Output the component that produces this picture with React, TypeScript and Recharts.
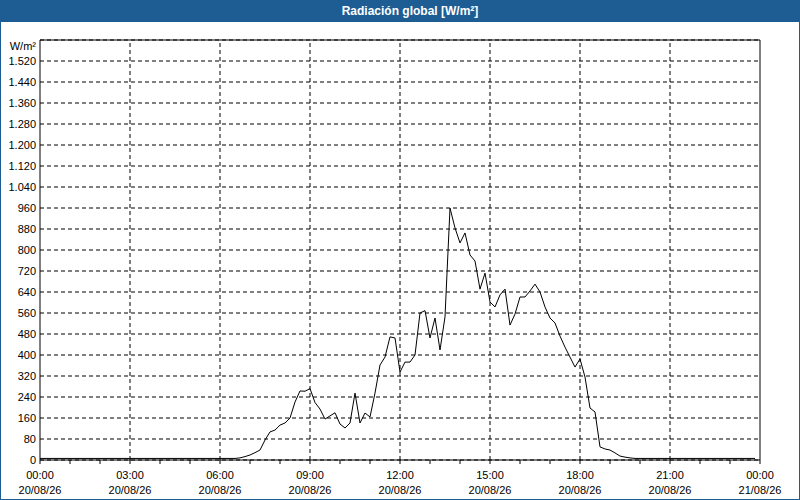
import React from 'react';
import { LineChart, Line, XAxis, YAxis, CartesianGrid, ReferenceLine } from 'recharts';

// global radiation every 10 minutes, 00:00 .. 23:50 (W/m²)
const radiation = [
  6, 6, 6, 6, 6, 6, 6, 6, 6, 6, 6, 6, 6, 6, 6, 6, 6, 6, 6, 6, 6, 6, 6, 6,
  6, 6, 6, 6, 6, 6, 6, 6, 6, 6, 6, 6, 6, 6, 6, 6,
  8, 13, 19, 28, 38, 76, 107, 114, 133, 141, 160, 221, 263, 262, 272, 219,
  194, 156, 168, 180, 137, 122, 141, 255, 141, 179, 164, 255, 362, 392, 469, 465,
  335, 373, 373, 400, 560, 569, 465, 541, 419, 545, 960, 884, 827, 865, 781, 758,
  651, 712, 602, 583, 629, 651, 514, 556, 621, 621, 644, 670, 640, 583, 541, 522,
  472, 430, 392, 354, 385, 316, 198, 183, 50, 42, 38, 27, 15, 11, 8,
  6, 6, 6, 6, 6, 6, 6, 6, 6, 6, 6, 6, 6, 6, 6, 6, 6, 6, 6, 6, 6, 6, 6, 6, 6,
];

const hourTicks = [0, 1, 2, 3, 4, 5, 6, 7, 8, 9, 10, 11, 12, 13, 14, 15, 16, 17, 18, 19, 20, 21, 22, 23, 24];
const timeLabels = ['00:00', '03:00', '06:00', '09:00', '12:00', '15:00', '18:00', '21:00', '00:00'];
const dateLabels = ['20/08/26', '20/08/26', '20/08/26', '20/08/26', '20/08/26', '20/08/26', '20/08/26', '20/08/26', '21/08/26'];
const gridHours = [3, 6, 9, 12, 15, 18, 21];
const valueTicks = [0, 80, 160, 240, 320, 400, 480, 560, 640, 720, 800, 880, 960, 1040, 1120, 1200, 1280, 1360, 1440, 1520, 1600];

const data = radiation.map((v, i) => ({ t: i / 6, v }));

const BLUE = '#1d5d94';
const FONT = '"Liberation Sans", Arial, sans-serif';

const fmt = (v: number) => {
  if (v === 1600) return 'W/m²';
  if (v >= 1000) return `${Math.floor(v / 1000)}.${String(v % 1000).padStart(3, '0')}`;
  return String(v);
};

const TimeTick = (props: any) => {
  const { x, y, payload } = props;
  const h = payload.value;
  if (h % 3 !== 0) return <g />;
  const k = h / 3;
  return (
    <g>
      <text x={x} y={y + 15} textAnchor="middle" fontSize={11} fontFamily={FONT} fill="#000">{timeLabels[k]}</text>
      <text x={x} y={y + 30} textAnchor="middle" fontSize={11} fontFamily={FONT} fill="#000">{dateLabels[k]}</text>
    </g>
  );
};

const ValueTick = (props: any) => {
  const { x, y, payload } = props;
  const top = payload.value === 1600;
  return (
    <text x={x} y={y + (top ? 6 : 0)} dy="0.36em" textAnchor="end" fontSize={11} fontFamily={FONT} fill="#000">
      {fmt(payload.value)}
    </text>
  );
};

export default function App() {
  return (
    <div style={{ position: 'absolute', left: 0, top: 0, width: 800, height: 500, background: '#fff', boxSizing: 'border-box', border: `1px solid ${BLUE}` }}>
      <div style={{ position: 'absolute', left: 0, top: 0, width: 798, height: 21, background: BLUE, color: '#fff', fontFamily: FONT, fontWeight: 'bold', fontSize: 12, lineHeight: '21px', textAlign: 'center', paddingLeft: 20, boxSizing: 'border-box' }}>
        Radiación global [W/m²]
      </div>
      <div style={{ position: 'absolute', left: -1, top: -1 }}>
        <LineChart width={800} height={500} data={data} margin={{ top: 40, right: 40, bottom: 0, left: 0 }}>
          <CartesianGrid vertical={false} stroke="#000" strokeDasharray="4 3" />
          {gridHours.map((h) => (
            <ReferenceLine key={h} x={h} stroke="#000" strokeDasharray="4 3" />
          ))}
          <ReferenceLine y={1600} stroke="#000" />
          <ReferenceLine x={24} stroke="#000" />
          <XAxis
            dataKey="t"
            type="number"
            domain={[0, 24]}
            ticks={hourTicks}
            interval={0}
            height={40}
            stroke="#000"
            tickSize={4}
            tickMargin={0}
            tick={<TimeTick />}
          />
          <YAxis
            type="number"
            domain={[0, 1600]}
            ticks={valueTicks}
            interval={0}
            width={40}
            stroke="#000"
            tickLine={false}
            tickSize={0}
            tickMargin={4}
            tick={<ValueTick />}
          />
          <Line type="linear" dataKey="v" stroke="#000" strokeWidth={1} dot={false} isAnimationActive={false} />
        </LineChart>
      </div>
    </div>
  );
}
